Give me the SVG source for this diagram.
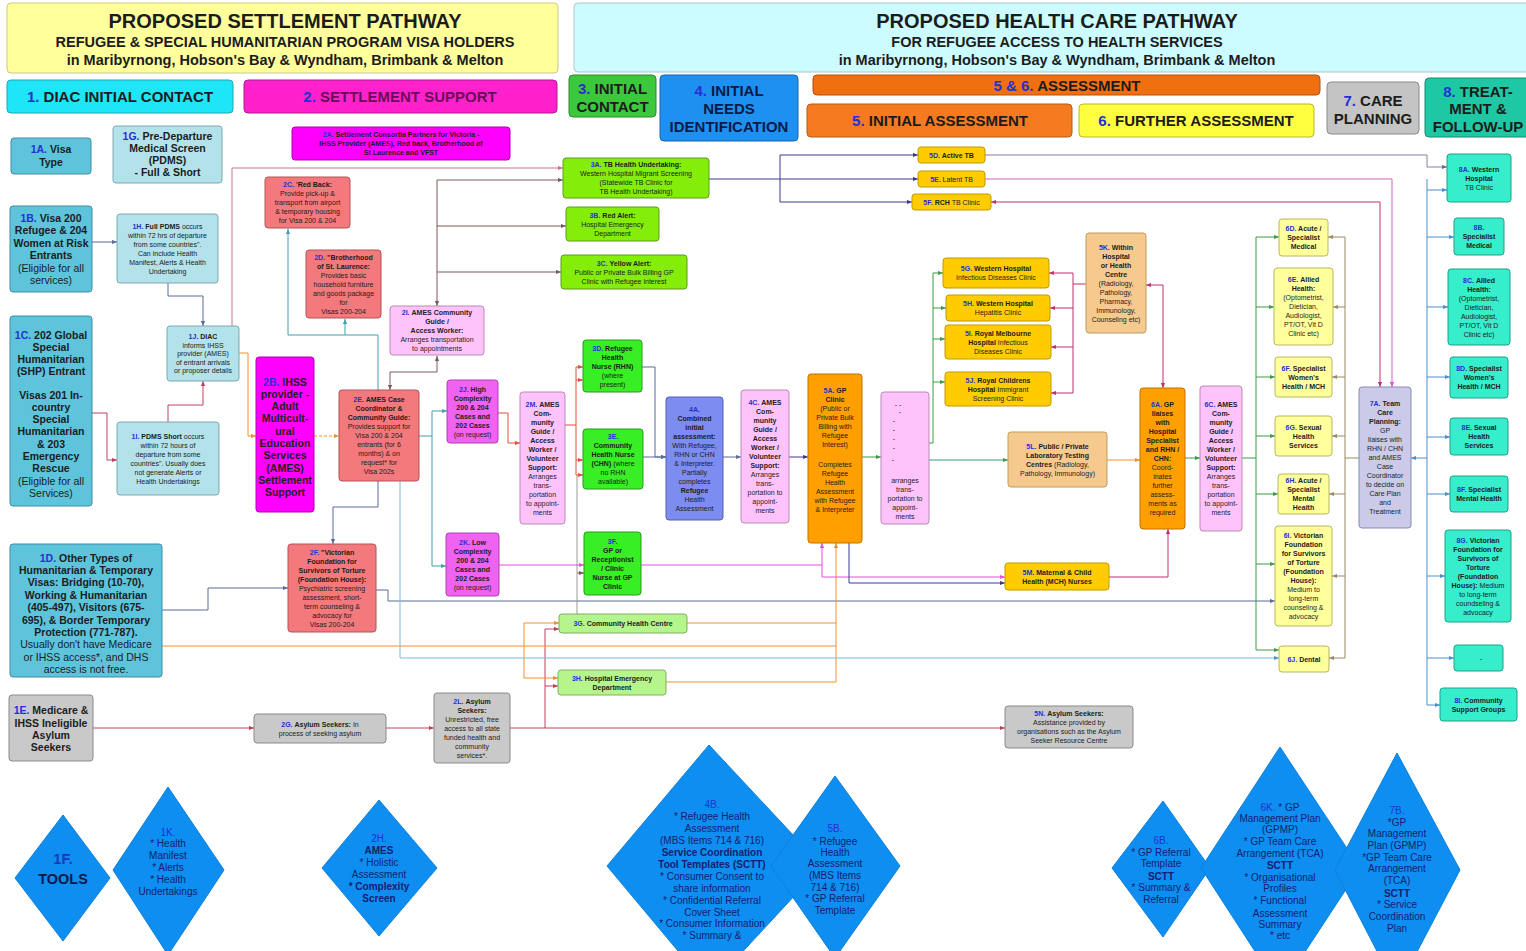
<svg xmlns="http://www.w3.org/2000/svg" width="1526" height="951" viewBox="0 0 1526 951">
<style>
.t{font-family:"Liberation Sans",Arial,Helvetica,sans-serif;text-anchor:middle;fill:#1c1c1c}
.s{font-size:7px}
.m{font-size:10.5px;font-weight:bold}
.d{font-size:10px;fill:#14206e}
.h{font-size:15px;font-weight:bold}
.b{font-weight:bold}
.nb{font-weight:normal}
.lb{fill:#2530d0}
.cy{fill:#5ec4dc;stroke:#3d8da3}
.lc{fill:#b3e2ea;stroke:#7aa9b3}
.sa{fill:#f4797d;stroke:#b55358}
.mg{fill:#ff00ff;stroke:#b000b0}
.vi{fill:#f062f0;stroke:#b040b0}
.lp{fill:#ffc3fb;stroke:#b98ab5}
.li{fill:#84ee0a;stroke:#5c9c20}
.gr{fill:#38ee24;stroke:#2a9a20}
.lg{fill:#b6f58c;stroke:#7fb060}
.pb{fill:#7d8cf0;stroke:#5060b0}
.or{fill:#ffa000;stroke:#c07000}
.go{fill:#ffcc00;stroke:#c09a00}
.tn{fill:#f6ca8e;stroke:#c09a60}
.gy{fill:#c9c9c9;stroke:#8a8a8a}
.ly{fill:#ffff9c;stroke:#b8b860}
.lv{fill:#cbcbe9;stroke:#8a8ab0}
.te{fill:#36eecb;stroke:#20a088}
.dm{fill:#0e8ef0;stroke:#0b80dc;stroke-width:1}
#connectors path{fill:none;stroke-width:1}
</style>
<defs>
<marker id="aG" viewBox="0 0 6 6" refX="6" refY="3" markerWidth="5" markerHeight="5" orient="auto-start-reverse" markerUnits="userSpaceOnUse"><path d="M0,0.5L6,3L0,5.5z" fill="#5a6a9a"/></marker>
<marker id="aR" viewBox="0 0 6 6" refX="6" refY="3" markerWidth="5" markerHeight="5" orient="auto-start-reverse" markerUnits="userSpaceOnUse"><path d="M0,0.5L6,3L0,5.5z" fill="#c0405a"/></marker>
<marker id="aO" viewBox="0 0 6 6" refX="6" refY="3" markerWidth="5" markerHeight="5" orient="auto-start-reverse" markerUnits="userSpaceOnUse"><path d="M0,0.5L6,3L0,5.5z" fill="#f0902a"/></marker>
<marker id="aP" viewBox="0 0 6 6" refX="6" refY="3" markerWidth="5" markerHeight="5" orient="auto-start-reverse" markerUnits="userSpaceOnUse"><path d="M0,0.5L6,3L0,5.5z" fill="#d07090"/></marker>
<marker id="aT" viewBox="0 0 6 6" refX="6" refY="3" markerWidth="5" markerHeight="5" orient="auto-start-reverse" markerUnits="userSpaceOnUse"><path d="M0,0.5L6,3L0,5.5z" fill="#3fa0b0"/></marker>
<marker id="aBr" viewBox="0 0 6 6" refX="6" refY="3" markerWidth="5" markerHeight="5" orient="auto-start-reverse" markerUnits="userSpaceOnUse"><path d="M0,0.5L6,3L0,5.5z" fill="#7a5a5a"/></marker>
<marker id="aRo" viewBox="0 0 6 6" refX="6" refY="3" markerWidth="5" markerHeight="5" orient="auto-start-reverse" markerUnits="userSpaceOnUse"><path d="M0,0.5L6,3L0,5.5z" fill="#e0503a"/></marker>
<marker id="aM" viewBox="0 0 6 6" refX="6" refY="3" markerWidth="5" markerHeight="5" orient="auto-start-reverse" markerUnits="userSpaceOnUse"><path d="M0,0.5L6,3L0,5.5z" fill="#e050e0"/></marker>
<marker id="aN" viewBox="0 0 6 6" refX="6" refY="3" markerWidth="5" markerHeight="5" orient="auto-start-reverse" markerUnits="userSpaceOnUse"><path d="M0,0.5L6,3L0,5.5z" fill="#3a3a8a"/></marker>
<marker id="aGr" viewBox="0 0 6 6" refX="6" refY="3" markerWidth="5" markerHeight="5" orient="auto-start-reverse" markerUnits="userSpaceOnUse"><path d="M0,0.5L6,3L0,5.5z" fill="#3f9a44"/></marker>
<marker id="aMr" viewBox="0 0 6 6" refX="6" refY="3" markerWidth="5" markerHeight="5" orient="auto-start-reverse" markerUnits="userSpaceOnUse"><path d="M0,0.5L6,3L0,5.5z" fill="#c03070"/></marker>
<marker id="aOl" viewBox="0 0 6 6" refX="6" refY="3" markerWidth="5" markerHeight="5" orient="auto-start-reverse" markerUnits="userSpaceOnUse"><path d="M0,0.5L6,3L0,5.5z" fill="#9a8a66"/></marker>
<marker id="aB" viewBox="0 0 6 6" refX="6" refY="3" markerWidth="5" markerHeight="5" orient="auto-start-reverse" markerUnits="userSpaceOnUse"><path d="M0,0.5L6,3L0,5.5z" fill="#4a90d0"/></marker>
</defs>
<rect width="1526" height="951" fill="#ffffff"/>

<!-- Headers -->
<g id="hdr-settlement">
<rect x="7" y="3" width="551" height="70" rx="4" fill="#ffff9c" stroke="#c9c98a"/>
<text class="t b" x="285" y="28" font-size="20">PROPOSED SETTLEMENT PATHWAY</text>
<text class="t b" x="285" y="47" font-size="14.5">REFUGEE &amp; SPECIAL HUMANITARIAN PROGRAM VISA HOLDERS</text>
<text class="t b" x="285" y="65" font-size="14.5">in Maribyrnong, Hobson's Bay &amp; Wyndham, Brimbank &amp; Melton</text>
</g>
<g id="hdr-health">
<rect x="574" y="3" width="960" height="69" rx="4" fill="#ccfcff" stroke="#a9c9cc"/>
<text class="t b" x="1057" y="28" font-size="20">PROPOSED HEALTH CARE PATHWAY</text>
<text class="t b" x="1057" y="47" font-size="14.5">FOR REFUGEE ACCESS TO HEALTH SERVICES</text>
<text class="t b" x="1057" y="65" font-size="14.5">in Maribyrnong, Hobson's Bay &amp; Wyndham, Brimbank &amp; Melton</text>
</g>
<g id="sec1"><rect x="7" y="80" width="226" height="33" rx="4" fill="#1ee6f6" stroke="#18a8b8"/><text class="t h" x="120" y="102"><tspan class="lb">1.</tspan> DIAC INITIAL CONTACT</text></g>
<g id="sec2"><rect x="244" y="80" width="313" height="33" rx="4" fill="#ff22cc" stroke="#b01890"/><text class="t h" x="400" y="102" fill="#6a0c58"><tspan class="lb">2.</tspan> <tspan fill="#6a0c58">SETTLEMENT SUPPORT</tspan></text></g>
<g id="sec3"><rect x="569" y="75" width="87" height="42" rx="4" fill="#3cc83c" stroke="#2a8a2a"/><text class="t h"><tspan x="612.5" y="94"><tspan class="lb">3.</tspan> INITIAL</tspan><tspan x="612.5" y="112">CONTACT</tspan></text></g>
<g id="sec4"><rect x="660" y="75" width="138" height="66" rx="4" fill="#1e90f0" stroke="#1565b0"/><text class="t h" fill="#0c1a4a"><tspan x="729" y="96"><tspan class="lb">4.</tspan> <tspan fill="#0c1a4a">INITIAL</tspan></tspan><tspan x="729" y="114" fill="#0c1a4a">NEEDS</tspan><tspan x="729" y="132" fill="#0c1a4a">IDENTIFICATION</tspan></text></g>
<g id="sec56"><rect x="813" y="75" width="507" height="20" rx="4" fill="#f07010" stroke="#b05010"/><text class="t h" x="1067" y="91"><tspan class="lb">5 &amp; 6.</tspan> ASSESSMENT</text></g>
<g id="sec5"><rect x="807" y="104" width="265" height="33" rx="4" fill="#f57a20" stroke="#b05a18"/><text class="t h" x="940" y="126"><tspan class="lb">5.</tspan> INITIAL ASSESSMENT</text></g>
<g id="sec6"><rect x="1079" y="104" width="235" height="33" rx="4" fill="#ffff40" stroke="#b8b830"/><text class="t h" x="1196" y="126"><tspan class="lb">6.</tspan> FURTHER ASSESSMENT</text></g>
<g id="sec7"><rect x="1327" y="82" width="92" height="52" rx="4" fill="#c4c4c4" stroke="#8a8a8a"/><text class="t h"><tspan x="1373" y="106"><tspan class="lb">7.</tspan> CARE</tspan><tspan x="1373" y="124">PLANNING</tspan></text></g>
<g id="sec8"><rect x="1425" y="78" width="106" height="59" rx="4" fill="#1ec8a4" stroke="#168a72"/><text class="t h"><tspan x="1478" y="97"><tspan class="lb">8.</tspan> TREAT-</tspan><tspan x="1478" y="114">MENT &amp;</tspan><tspan x="1478" y="132">FOLLOW-UP</tspan></text></g>

<!-- Connectors -->
<g id="connectors">
<g stroke="#5a6a9a">
<path d="M92,242H117" marker-end="url(#aG)"/>
<path d="M168,283V296H203V326" marker-end="url(#aG)"/>
<path d="M642,367H655V457H666" marker-end="url(#aG)"/>
<path d="M643,457H666" marker-end="url(#aG)"/>
<path d="M723,457H741" marker-end="url(#aG)"/>
<path d="M162,610H208V588H288" marker-end="url(#aG)"/>
<path d="M378,481V507H333V544" marker-end="url(#aG)"/>
<path d="M376,590H388V601H1275" marker-end="url(#aG)"/>
</g>
<g stroke="#c0405a">
<path d="M92,413H107V460H117" marker-end="url(#aR)"/>
<path d="M168,422V405H203V381" marker-end="url(#aR)"/>
<path d="M93,728H254" marker-end="url(#aR)"/>
<path d="M386,728H434" marker-end="url(#aR)"/>
<path d="M510,728H1005" marker-end="url(#aR)"/>
<path d="M545,728V629H559" marker-end="url(#aR)"/>
<path d="M545,686H558" marker-end="url(#aR)"/>
</g>
<g stroke="#f0902a">
<path d="M239,353H248V436H256" marker-end="url(#aO)"/>
<path d="M314,436H339" stroke-dasharray="3 2" marker-end="url(#aO)"/>
<path d="M1107,460H1140" marker-end="url(#aO)"/>
<path d="M162,646H836"/>
<path d="M687,623H836"/>
<path d="M666,682H836"/>
<path d="M836,682V543" marker-end="url(#aO)"/>
<path d="M524,646V623H559" marker-end="url(#aO)"/>
<path d="M524,646V678H558" marker-end="url(#aO)"/>
</g>
<path d="M232,326V168H563" stroke="#d07090" marker-end="url(#aP)"/>
<g stroke="#3fa0b0">
<path d="M378,390V335H288V229" marker-end="url(#aT)"/>
<path d="M345,335V319" marker-end="url(#aT)"/>
<path d="M419,436H432"/>
<path d="M432,411V566"/>
<path d="M432,411H447" marker-end="url(#aT)"/>
<path d="M432,566H446" marker-end="url(#aT)"/>
</g>
<g stroke="#7a5a5a">
<path d="M390,390V372H437V356" marker-start="url(#aBr)" marker-end="url(#aBr)"/>
<path d="M437,180V306" marker-end="url(#aBr)"/>
<path d="M437,180H563" marker-end="url(#aBr)"/>
<path d="M437,226H566" marker-end="url(#aBr)"/>
<path d="M437,272H561" marker-end="url(#aBr)"/>
<path d="M577,573H584" marker-end="url(#aBr)"/>
</g>
<g stroke="#e0503a">
<path d="M498,413H508V443H520" marker-end="url(#aRo)"/>
<path d="M565,425H576"/>
<path d="M576,367V475"/>
<path d="M576,367H583" marker-end="url(#aRo)"/>
<path d="M576,380H583" marker-end="url(#aRo)"/>
<path d="M576,460H583" marker-end="url(#aRo)"/>
<path d="M576,475H583" marker-end="url(#aRo)"/>
</g>
<path d="M577,475V614" stroke="#9a9a9a"/>
<g stroke="#e050e0">
<path d="M499,565H584" marker-end="url(#aM)"/>
<path d="M641,565H822V543" marker-end="url(#aM)"/>
<path d="M822,565V577H1005" marker-end="url(#aM)"/>
</g>
<g stroke="#3a3a8a">
<path d="M789,457H808" marker-end="url(#aN)"/>
<path d="M849,543V583H1005" marker-end="url(#aN)"/>
<path d="M709,179H918" marker-end="url(#aN)"/>
<path d="M780,155V202"/>
<path d="M780,155H918" marker-end="url(#aN)"/>
<path d="M780,202H912" marker-end="url(#aN)"/>
</g>
<g stroke="#3f9a44">
<path d="M862,457H881" marker-end="url(#aGr)"/>
<path d="M929,443H933V273H943" marker-end="url(#aGr)"/>
<path d="M933,308H946" marker-end="url(#aGr)"/>
<path d="M933,339H945" marker-end="url(#aGr)"/>
<path d="M933,382H945" marker-end="url(#aGr)"/>
<path d="M1185,458H1200" marker-end="url(#aGr)"/>
<path d="M1242,458H1256"/>
<path d="M1256,237V650"/>
<path d="M1256,237H1279" marker-end="url(#aGr)"/>
<path d="M1256,307H1274" marker-end="url(#aGr)"/>
<path d="M1256,377H1275" marker-end="url(#aGr)"/>
<path d="M1256,436H1275" marker-end="url(#aGr)"/>
<path d="M1256,494H1278" marker-end="url(#aGr)"/>
<path d="M1256,564H1275" marker-end="url(#aGr)"/>
<path d="M1256,650H1279" marker-end="url(#aGr)"/>
</g>
<path d="M929,460H1008" stroke="#3a9a80" marker-end="url(#aGr)"/>
<g stroke="#c03070">
<path d="M1086,284H1073"/>
<path d="M1073,273V393"/>
<path d="M1073,273H1049" marker-end="url(#aMr)"/>
<path d="M1073,308H1050" marker-end="url(#aMr)"/>
<path d="M1073,347H1051" marker-end="url(#aMr)"/>
<path d="M1073,393H1051" marker-end="url(#aMr)"/>
<path d="M1146,285H1163V388" marker-start="url(#aMr)" marker-end="url(#aMr)"/>
<path d="M1109,577H1168V529" marker-end="url(#aMr)"/>
<path d="M991,202H1380V387" marker-start="url(#aMr)" marker-end="url(#aMr)"/>
</g>
<path d="M985,179H1392V387" stroke="#d060c0" marker-end="url(#aM)"/>
<path d="M985,155H1427V167H1447" stroke="#8080a8" marker-end="url(#aG)"/>
<g stroke="#9a8a66">
<path d="M1359,458H1345"/>
<path d="M1345,237V658"/>
<path d="M1345,237H1328" marker-end="url(#aOl)"/>
<path d="M1345,307H1333" marker-end="url(#aOl)"/>
<path d="M1345,377H1332" marker-end="url(#aOl)"/>
<path d="M1345,436H1332" marker-end="url(#aOl)"/>
<path d="M1345,494H1329" marker-end="url(#aOl)"/>
<path d="M1345,576H1332" marker-end="url(#aOl)"/>
<path d="M1345,658H1329" marker-end="url(#aOl)"/>
</g>
<g stroke="#4a90d0">
<path d="M1427,458H1411" marker-end="url(#aB)"/>
<path d="M1427,179V705"/>
<path d="M1427,190H1447" marker-end="url(#aB)"/>
<path d="M1427,237H1454" marker-end="url(#aB)"/>
<path d="M1427,307H1448" marker-end="url(#aB)"/>
<path d="M1427,377H1450" marker-end="url(#aB)"/>
<path d="M1427,437H1450" marker-end="url(#aB)"/>
<path d="M1427,494H1450" marker-end="url(#aB)"/>
<path d="M1427,576H1445" marker-end="url(#aB)"/>
<path d="M1427,658H1454" marker-end="url(#aB)"/>
<path d="M1427,705H1440" marker-end="url(#aB)"/>
</g>
<path d="M400,481V658H1279" stroke="#80b8d8" marker-end="url(#aB)"/>
</g>

<!-- Column 1 -->
<g id="n1A"><rect class="cy" x="11" y="138" width="80" height="36" rx="3"/><text class="t m"><tspan x="51" y="152.5"><tspan class="lb">1A.</tspan> Visa</tspan><tspan x="51" y="165.5">Type</tspan></text></g>
<g id="n1G"><rect class="lc" x="113" y="126" width="109" height="57" rx="3"/><text class="t m" font-size="10"><tspan x="167.5" y="140"><tspan class="lb">1G.</tspan> Pre-Departure</tspan><tspan x="167.5" y="152">Medical Screen</tspan><tspan x="167.5" y="164">(PDMS)</tspan><tspan x="167.5" y="176">- Full &amp; Short</tspan></text></g>
<g id="n1B"><rect class="cy" x="10" y="206" width="82" height="86" rx="3"/><text class="t m"><tspan x="51" y="221.5"><tspan class="lb">1B.</tspan> Visa 200</tspan><tspan x="51" y="234">Refugee &amp; 204</tspan><tspan x="51" y="246.5">Women at Risk</tspan><tspan x="51" y="259">Entrants</tspan><tspan x="51" y="271.5" class="nb">(Eligible for all</tspan><tspan x="51" y="284" class="nb">services)</tspan></text></g>
<g id="n1H"><rect class="lc" x="117" y="214" width="101" height="69" rx="3"/><text class="t s"><tspan x="167.5" y="228.5"><tspan class="lb b">1H.</tspan> <tspan class="b">Full PDMS</tspan> occurs</tspan><tspan x="167.5" y="237.5">within 72 hrs of departure</tspan><tspan x="167.5" y="246.5">from some countries".</tspan><tspan x="167.5" y="255.5">Can include Health</tspan><tspan x="167.5" y="264.5">Manifest, Alerts &amp; Health</tspan><tspan x="167.5" y="273.5">Undertaking</tspan></text></g>
<g id="n1C"><rect class="cy" x="10" y="316" width="82" height="190" rx="3"/><text class="t m"><tspan x="51" y="338.5"><tspan class="lb">1C.</tspan> 202 Global</tspan><tspan x="51" y="350.8">Special</tspan><tspan x="51" y="363.1">Humanitarian</tspan><tspan x="51" y="375.4">(SHP) Entrant</tspan><tspan x="51" y="398.5">Visas 201 In-</tspan><tspan x="51" y="410.8">country</tspan><tspan x="51" y="423.1">Special</tspan><tspan x="51" y="435.4">Humanitarian</tspan><tspan x="51" y="447.7">&amp; 203</tspan><tspan x="51" y="460">Emergency</tspan><tspan x="51" y="472.3">Rescue</tspan><tspan x="51" y="484.6" class="nb">(Eligible for all</tspan><tspan x="51" y="496.9" class="nb">Services)</tspan></text></g>
<g id="n1J"><rect class="lc" x="167" y="326" width="72" height="55" rx="3"/><text class="t s"><tspan x="203" y="339"><tspan class="lb b">1J.</tspan> <tspan class="b">DIAC</tspan></tspan><tspan x="203" y="347.5">informs IHSS</tspan><tspan x="203" y="356">provider (AMES)</tspan><tspan x="203" y="364.5">of entrant arrivals</tspan><tspan x="203" y="373">or proposer details</tspan></text></g>
<g id="n1I"><rect class="lc" x="117" y="422" width="102" height="73" rx="3"/><text class="t s"><tspan x="168" y="438.5"><tspan class="lb b">1I.</tspan> <tspan class="b">PDMS Short</tspan> occurs</tspan><tspan x="168" y="447.5">within 72 hours of</tspan><tspan x="168" y="456.5">departure from some</tspan><tspan x="168" y="465.5">countries". Usually does</tspan><tspan x="168" y="474.5">not generate Alerts or</tspan><tspan x="168" y="483.5">Health Undertakings</tspan></text></g>
<g id="n1D"><rect class="cy" x="10" y="544" width="152" height="133" rx="3"/><text class="t m" font-size="10"><tspan x="86" y="561.5"><tspan class="lb">1D.</tspan> Other Types of</tspan><tspan x="86" y="574">Humanitarian &amp; Temporary</tspan><tspan x="86" y="586.4">Visas: Bridging (10-70),</tspan><tspan x="86" y="598.8">Working &amp; Humanitarian</tspan><tspan x="86" y="611.2">(405-497), Visitors (675-</tspan><tspan x="86" y="623.6">695), &amp; Border Temporary</tspan><tspan x="86" y="636">Protection (771-787).</tspan><tspan x="86" y="648.4" class="nb">Usually don't have Medicare</tspan><tspan x="86" y="660.8" class="nb">or IHSS access*, and DHS</tspan><tspan x="86" y="673.2" class="nb">access is not free.</tspan></text></g>
<g id="n1E"><rect class="gy" x="9" y="695" width="84" height="66" rx="3"/><text class="t m"><tspan x="51" y="713.5"><tspan class="lb">1E.</tspan> Medicare &amp;</tspan><tspan x="51" y="726.5">IHSS Ineligible</tspan><tspan x="51" y="738.5">Asylum</tspan><tspan x="51" y="750.5">Seekers</tspan></text></g>

<!-- Column 2 -->
<g id="n2A"><rect class="mg" x="292" y="127" width="218" height="33" rx="3"/><text class="t s b"><tspan x="401" y="137"><tspan class="lb">2A.</tspan> Settlement Consortia Partners for Victoria -</tspan><tspan x="401" y="146">IHSS Provider (AMES), Red back, Brotherhood of</tspan><tspan x="401" y="155">St Laurence and VFST</tspan></text></g>
<g id="n2C"><rect class="sa" x="265" y="177" width="85" height="51" rx="3"/><text class="t s"><tspan x="307.5" y="187"><tspan class="lb b">2C.</tspan> <tspan class="b">'Red Back:</tspan></tspan><tspan x="307.5" y="196">Provide pick-up &amp;</tspan><tspan x="307.5" y="205">transport from airport</tspan><tspan x="307.5" y="214">&amp; temporary housing</tspan><tspan x="307.5" y="223">for Visa 200 &amp; 204</tspan></text></g>
<g id="n2D"><rect class="sa" x="306" y="250" width="75" height="68" rx="3"/><text class="t s"><tspan x="343.5" y="259.5"><tspan class="lb b">2D.</tspan> <tspan class="b">"Brotherhood</tspan></tspan><tspan x="343.5" y="268.5" class="b">of St. Laurence:</tspan><tspan x="343.5" y="277.5">Provides basic</tspan><tspan x="343.5" y="286.5">household furniture</tspan><tspan x="343.5" y="295.5">and goods package</tspan><tspan x="343.5" y="304.5">for</tspan><tspan x="343.5" y="313.5">Visas 200-204</tspan></text></g>
<g id="n2I"><rect class="lp" x="390" y="306" width="94" height="49" rx="3"/><text class="t s"><tspan x="437" y="315"><tspan class="lb b">2I.</tspan> <tspan class="b">AMES Community</tspan></tspan><tspan x="437" y="324" class="b">Guide /</tspan><tspan x="437" y="333" class="b">Access Worker:</tspan><tspan x="437" y="342">Arranges transportation</tspan><tspan x="437" y="351">to appointments</tspan></text></g>
<g id="n2B"><rect class="mg" x="256" y="357" width="58" height="155" rx="3"/><text class="t m" font-size="10" fill="#6a0c6a"><tspan x="285" y="385.5"><tspan class="lb">2B.</tspan> IHSS</tspan><tspan x="285" y="397.8">provider -</tspan><tspan x="285" y="410.1">Adult</tspan><tspan x="285" y="422.4">Multicult-</tspan><tspan x="285" y="434.7">ural</tspan><tspan x="285" y="447">Education</tspan><tspan x="285" y="459.3">Services</tspan><tspan x="285" y="471.6">(AMES)</tspan><tspan x="285" y="483.9">Settlement</tspan><tspan x="285" y="496.2">Support</tspan></text></g>
<g id="n2E"><rect class="sa" x="339" y="390" width="80" height="91" rx="3"/><text class="t s"><tspan x="379" y="402"><tspan class="lb b">2E.</tspan> <tspan class="b">AMES Case</tspan></tspan><tspan x="379" y="411" class="b">Coordinator &amp;</tspan><tspan x="379" y="420" class="b">Community Guide:</tspan><tspan x="379" y="429">Provides support for</tspan><tspan x="379" y="438">Visa 200 &amp; 204</tspan><tspan x="379" y="447">entrants (for 6</tspan><tspan x="379" y="456">months) &amp; on</tspan><tspan x="379" y="465">request* for</tspan><tspan x="379" y="474">Visa 202s</tspan></text></g>
<g id="n2J"><rect class="vi" x="447" y="380" width="51" height="63" rx="3"/><text class="t s b"><tspan x="472.5" y="391.5"><tspan class="lb">2J.</tspan> High</tspan><tspan x="472.5" y="400.5">Complexity</tspan><tspan x="472.5" y="409.5">200 &amp; 204</tspan><tspan x="472.5" y="418.5">Cases and</tspan><tspan x="472.5" y="427.5">202 Cases</tspan><tspan x="472.5" y="436.5" class="nb">(on request)</tspan></text></g>
<g id="n2K"><rect class="vi" x="446" y="533" width="53" height="63" rx="3"/><text class="t s b"><tspan x="472.5" y="544.5"><tspan class="lb">2K.</tspan> Low</tspan><tspan x="472.5" y="553.5">Complexity</tspan><tspan x="472.5" y="562.5">200 &amp; 204</tspan><tspan x="472.5" y="571.5">Cases and</tspan><tspan x="472.5" y="580.5">202 Cases</tspan><tspan x="472.5" y="589.5" class="nb">(on request)</tspan></text></g>
<g id="n2M"><rect class="lp" x="520" y="392" width="45" height="132" rx="3"/><text class="t s"><tspan x="542.5" y="406.5"><tspan class="lb b">2M.</tspan> <tspan class="b">AMES</tspan></tspan><tspan x="542.5" y="415.5" class="b">Com-</tspan><tspan x="542.5" y="424.5" class="b">munity</tspan><tspan x="542.5" y="433.5" class="b">Guide /</tspan><tspan x="542.5" y="442.5" class="b">Access</tspan><tspan x="542.5" y="451.5" class="b">Worker /</tspan><tspan x="542.5" y="460.5" class="b">Volunteer</tspan><tspan x="542.5" y="469.5" class="b">Support:</tspan><tspan x="542.5" y="478.5">Arranges</tspan><tspan x="542.5" y="487.5">trans-</tspan><tspan x="542.5" y="496.5">portation</tspan><tspan x="542.5" y="505.5">to appoint-</tspan><tspan x="542.5" y="514.5">ments</tspan></text></g>
<g id="n2F"><rect class="sa" x="288" y="544" width="88" height="88" rx="3"/><text class="t s"><tspan x="332" y="554.5"><tspan class="lb b">2F.</tspan> <tspan class="b">"Victorian</tspan></tspan><tspan x="332" y="563.5" class="b">Foundation for</tspan><tspan x="332" y="572.5" class="b">Survivors of Torture</tspan><tspan x="332" y="581.5" class="b">(Foundation House):</tspan><tspan x="332" y="590.5">Psychiatric screening</tspan><tspan x="332" y="599.5">assessment, short-</tspan><tspan x="332" y="608.5">term counseling &amp;</tspan><tspan x="332" y="617.5">advocacy for</tspan><tspan x="332" y="626.5">Visas 200-204</tspan></text></g>
<g id="n2G"><rect class="gy" x="254" y="714" width="132" height="29" rx="3"/><text class="t s"><tspan x="320" y="726.5"><tspan class="lb b">2G.</tspan> <tspan class="b">Asylum Seekers:</tspan> In</tspan><tspan x="320" y="735.5">process of seeking asylum</tspan></text></g>
<g id="n2L"><rect class="gy" x="434" y="693" width="76" height="70" rx="3"/><text class="t s"><tspan x="472" y="703.5"><tspan class="lb b">2L.</tspan> <tspan class="b">Asylum</tspan></tspan><tspan x="472" y="712.5" class="b">Seekers:</tspan><tspan x="472" y="721.5">Unrestricted, free</tspan><tspan x="472" y="730.5">access to all state</tspan><tspan x="472" y="739.5">funded health and</tspan><tspan x="472" y="748.5">community</tspan><tspan x="472" y="757.5">services*.</tspan></text></g>

<!-- Column 3 -->
<g id="n3A"><rect class="li" x="563" y="158" width="146" height="40" rx="3"/><text class="t s"><tspan x="636" y="167"><tspan class="lb b">3A.</tspan> <tspan class="b">TB Health Undertaking:</tspan></tspan><tspan x="636" y="176">Western Hospital Migrant Screening</tspan><tspan x="636" y="185">(Statewide TB Clinic for</tspan><tspan x="636" y="194">TB Health Undertaking)</tspan></text></g>
<g id="n3B"><rect class="li" x="566" y="207" width="93" height="34" rx="3"/><text class="t s"><tspan x="612.5" y="217.5"><tspan class="lb b">3B.</tspan> <tspan class="b">Red Alert:</tspan></tspan><tspan x="612.5" y="226.5">Hospital Emergency</tspan><tspan x="612.5" y="235.5">Department</tspan></text></g>
<g id="n3C"><rect class="li" x="561" y="255" width="126" height="34" rx="3"/><text class="t s"><tspan x="624" y="265.5"><tspan class="lb b">3C.</tspan> <tspan class="b">Yellow Alert:</tspan></tspan><tspan x="624" y="274.5">Public or Private Bulk Billing GP</tspan><tspan x="624" y="283.5">Clinic with Refugee interest</tspan></text></g>
<g id="n3D"><rect class="gr" x="583" y="340" width="59" height="52" rx="3"/><text class="t s"><tspan x="612.5" y="350.5"><tspan class="lb b">3D.</tspan> <tspan class="b">Refugee</tspan></tspan><tspan x="612.5" y="359.5" class="b">Health</tspan><tspan x="612.5" y="368.5" class="b">Nurse (RHN)</tspan><tspan x="612.5" y="377.5">(where</tspan><tspan x="612.5" y="386.5">present)</tspan></text></g>
<g id="n3E"><rect class="gr" x="583" y="429" width="60" height="60" rx="3"/><text class="t s"><tspan x="613" y="439" class="lb b">3E.</tspan><tspan x="613" y="448" class="b">Community</tspan><tspan x="613" y="457" class="b">Health Nurse</tspan><tspan x="613" y="466"><tspan class="b">(CHN)</tspan> (where</tspan><tspan x="613" y="475">no RHN</tspan><tspan x="613" y="484">available)</tspan></text></g>
<g id="n3F"><rect class="gr" x="584" y="532" width="57" height="63" rx="3"/><text class="t s b"><tspan x="612.5" y="543.5" class="lb">3F.</tspan><tspan x="612.5" y="552.5">GP or</tspan><tspan x="612.5" y="561.5">Receptionist</tspan><tspan x="612.5" y="570.5">/ Clinic</tspan><tspan x="612.5" y="579.5">Nurse at GP</tspan><tspan x="612.5" y="588.5">Clinic</tspan></text></g>
<g id="n3G"><rect class="lg" x="559" y="614" width="128" height="19" rx="3"/><text class="t s b" x="623" y="626"><tspan class="lb">3G.</tspan> Community Health Centre</text></g>
<g id="n3H"><rect class="lg" x="558" y="670" width="108" height="25" rx="3"/><text class="t s b"><tspan x="612" y="680.5"><tspan class="lb">3H.</tspan> Hospital Emergency</tspan><tspan x="612" y="689.5">Department</tspan></text></g>

<!-- Column 4 -->
<g id="n4A"><rect class="pb" x="666" y="397" width="57" height="123" rx="3"/><text class="t s"><tspan x="694.5" y="411.5" class="lb b">4A.</tspan><tspan x="694.5" y="420.5" class="b">Combined</tspan><tspan x="694.5" y="429.5" class="b">initial</tspan><tspan x="694.5" y="438.5" class="b">assessment:</tspan><tspan x="694.5" y="447.5">With Refugee,</tspan><tspan x="694.5" y="456.5">RHN or CHN</tspan><tspan x="694.5" y="465.5">&amp; Interpreter.</tspan><tspan x="694.5" y="474.5">Partially</tspan><tspan x="694.5" y="483.5">completes</tspan><tspan x="694.5" y="492.5" class="b">Refugee</tspan><tspan x="694.5" y="501.5">Health</tspan><tspan x="694.5" y="510.5">Assessment</tspan></text></g>
<g id="n4C"><rect class="lp" x="741" y="390" width="48" height="133" rx="3"/><text class="t s"><tspan x="765" y="405"><tspan class="lb b">4C.</tspan> <tspan class="b">AMES</tspan></tspan><tspan x="765" y="414" class="b">Com-</tspan><tspan x="765" y="423" class="b">munity</tspan><tspan x="765" y="432" class="b">Guide /</tspan><tspan x="765" y="441" class="b">Access</tspan><tspan x="765" y="450" class="b">Worker /</tspan><tspan x="765" y="459" class="b">Volunteer</tspan><tspan x="765" y="468" class="b">Support:</tspan><tspan x="765" y="477">Arranges</tspan><tspan x="765" y="486">trans-</tspan><tspan x="765" y="495">portation to</tspan><tspan x="765" y="504">appoint-</tspan><tspan x="765" y="513">ments</tspan></text></g>

<!-- Column 5 -->
<g id="n5A"><rect class="or" x="808" y="374" width="54" height="169" rx="3"/><text class="t s"><tspan x="835" y="393"><tspan class="lb b">5A.</tspan> <tspan class="b">GP</tspan></tspan><tspan x="835" y="402" class="b">Clinic</tspan><tspan x="835" y="411">(Public or</tspan><tspan x="835" y="420">Private Bulk</tspan><tspan x="835" y="429">Billing with</tspan><tspan x="835" y="438">Refugee</tspan><tspan x="835" y="447">Interest)</tspan><tspan x="835" y="467">Completes</tspan><tspan x="835" y="476">Refugee</tspan><tspan x="835" y="485">Health</tspan><tspan x="835" y="494">Assessment</tspan><tspan x="835" y="503">with Refugee</tspan><tspan x="835" y="512">&amp; Interpreter</tspan></text></g>
<g id="n5P"><rect class="lp" x="881" y="392" width="48" height="132" rx="3"/><text class="t s"><tspan x="898" y="407">-   -</tspan><tspan x="900" y="414">-</tspan><tspan x="894" y="423">-</tspan><tspan x="894" y="432">-</tspan><tspan x="894" y="441">-</tspan><tspan x="894" y="450">-</tspan><tspan x="893" y="462">-</tspan><tspan x="905" y="483">arranges</tspan><tspan x="905" y="492">trans-</tspan><tspan x="905" y="501">portation to</tspan><tspan x="905" y="510">appoint-</tspan><tspan x="905" y="519">ments</tspan></text></g>
<g id="n5D"><rect class="go" x="918" y="147" width="67" height="16" rx="3"/><text class="t s b" x="951.5" y="157.5"><tspan class="lb">5D.</tspan> Active TB</text></g>
<g id="n5E"><rect class="go" x="918" y="171" width="67" height="16" rx="3"/><text class="t s" x="951.5" y="181.5"><tspan class="lb b">5E.</tspan> Latent TB</text></g>
<g id="n5F"><rect class="go" x="912" y="194" width="79" height="16" rx="3"/><text class="t s" x="951.5" y="204.5"><tspan class="lb b">5F.</tspan> <tspan class="b">RCH</tspan> TB Clinic</text></g>
<g id="n5G"><rect class="go" x="943" y="258" width="106" height="30" rx="3"/><text class="t s"><tspan x="996" y="271"><tspan class="lb b">5G.</tspan> <tspan class="b">Western Hospital</tspan></tspan><tspan x="996" y="280">Infectious Diseases Clinic</tspan></text></g>
<g id="n5H"><rect class="go" x="946" y="295" width="104" height="26" rx="3"/><text class="t s"><tspan x="998" y="306"><tspan class="lb b">5H.</tspan> <tspan class="b">Western Hospital</tspan></tspan><tspan x="998" y="315">Hepatitis Clinic</tspan></text></g>
<g id="n5I"><rect class="go" x="945" y="325" width="106" height="34" rx="3"/><text class="t s"><tspan x="998" y="335.5"><tspan class="lb b">5I.</tspan> <tspan class="b">Royal Melbourne</tspan></tspan><tspan x="998" y="344.5"><tspan class="b">Hospital</tspan> Infectious</tspan><tspan x="998" y="353.5">Diseases Clinic</tspan></text></g>
<g id="n5J"><rect class="go" x="945" y="372" width="106" height="34" rx="3"/><text class="t s"><tspan x="998" y="382.5"><tspan class="lb b">5J.</tspan> <tspan class="b">Royal Childrens</tspan></tspan><tspan x="998" y="391.5"><tspan class="b">Hospital</tspan> Immigrant</tspan><tspan x="998" y="400.5">Screening Clinic</tspan></text></g>
<g id="n5K"><rect class="tn" x="1086" y="233" width="60" height="100" rx="3"/><text class="t s"><tspan x="1116" y="249.5"><tspan class="lb b">5K.</tspan> <tspan class="b">Within</tspan></tspan><tspan x="1116" y="258.5" class="b">Hospital</tspan><tspan x="1116" y="267.5" class="b">or Health</tspan><tspan x="1116" y="276.5" class="b">Centre</tspan><tspan x="1116" y="285.5">(Radiology,</tspan><tspan x="1116" y="294.5">Pathology,</tspan><tspan x="1116" y="303.5">Pharmacy,</tspan><tspan x="1116" y="312.5">Immunology,</tspan><tspan x="1116" y="321.5">Counseling etc)</tspan></text></g>
<g id="n5L"><rect class="tn" x="1008" y="432" width="99" height="55" rx="3"/><text class="t s"><tspan x="1057.5" y="448.5"><tspan class="lb b">5L.</tspan> <tspan class="b">Public / Private</tspan></tspan><tspan x="1057.5" y="457.5" class="b">Laboratory Testing</tspan><tspan x="1057.5" y="466.5"><tspan class="b">Centres</tspan> (Radiology,</tspan><tspan x="1057.5" y="475.5">Pathology, Immunology)</tspan></text></g>
<g id="n5M"><rect class="go" x="1005" y="563" width="104" height="27" rx="3"/><text class="t s b"><tspan x="1057" y="574.5"><tspan class="lb">5M.</tspan> Maternal &amp; Child</tspan><tspan x="1057" y="583.5">Health (MCH) Nurses</tspan></text></g>
<g id="n5N"><rect class="gy" x="1005" y="706" width="128" height="42" rx="3"/><text class="t s"><tspan x="1069" y="716"><tspan class="lb b">5N.</tspan> <tspan class="b">Asylum Seekers:</tspan></tspan><tspan x="1069" y="725">Assistance provided by</tspan><tspan x="1069" y="734">organisations such as the Asylum</tspan><tspan x="1069" y="743">Seeker Resource Centre</tspan></text></g>

<!-- Column 6 -->
<g id="n6A"><rect class="or" x="1140" y="388" width="45" height="141" rx="3"/><text class="t s"><tspan x="1162.5" y="407"><tspan class="lb b">6A.</tspan> <tspan class="b">GP</tspan></tspan><tspan x="1162.5" y="416" class="b">liaises</tspan><tspan x="1162.5" y="425" class="b">with</tspan><tspan x="1162.5" y="434" class="b">Hospital</tspan><tspan x="1162.5" y="443" class="b">Specialist</tspan><tspan x="1162.5" y="452" class="b">and RHN /</tspan><tspan x="1162.5" y="461" class="b">CHN:</tspan><tspan x="1162.5" y="470">Coord-</tspan><tspan x="1162.5" y="479">inates</tspan><tspan x="1162.5" y="488">further</tspan><tspan x="1162.5" y="497">assess-</tspan><tspan x="1162.5" y="506">ments as</tspan><tspan x="1162.5" y="515">required</tspan></text></g>
<g id="n6C"><rect class="lp" x="1200" y="386" width="42" height="145" rx="3"/><text class="t s"><tspan x="1221" y="407"><tspan class="lb b">6C.</tspan> <tspan class="b">AMES</tspan></tspan><tspan x="1221" y="416" class="b">Com-</tspan><tspan x="1221" y="425" class="b">munity</tspan><tspan x="1221" y="434" class="b">Guide /</tspan><tspan x="1221" y="443" class="b">Access</tspan><tspan x="1221" y="452" class="b">Worker /</tspan><tspan x="1221" y="461" class="b">Volunteer</tspan><tspan x="1221" y="470" class="b">Support:</tspan><tspan x="1221" y="479">Arranges</tspan><tspan x="1221" y="488">trans-</tspan><tspan x="1221" y="497">portation</tspan><tspan x="1221" y="506">to appoint-</tspan><tspan x="1221" y="515">ments</tspan></text></g>
<g id="n6D"><rect class="ly" x="1279" y="219" width="49" height="37" rx="3"/><text class="t s b"><tspan x="1303.5" y="231"><tspan class="lb">6D.</tspan> Acute /</tspan><tspan x="1303.5" y="240">Specialist</tspan><tspan x="1303.5" y="249">Medical</tspan></text></g>
<g id="n6E"><rect class="ly" x="1274" y="268" width="59" height="77" rx="3"/><text class="t s"><tspan x="1303.5" y="282"><tspan class="lb b">6E.</tspan> <tspan class="b">Allied</tspan></tspan><tspan x="1303.5" y="291" class="b">Health:</tspan><tspan x="1303.5" y="300">(Optometrist,</tspan><tspan x="1303.5" y="309">Dietician,</tspan><tspan x="1303.5" y="318">Audiologist,</tspan><tspan x="1303.5" y="327">PT/OT, Vit D</tspan><tspan x="1303.5" y="336">Clinic etc)</tspan></text></g>
<g id="n6F"><rect class="ly" x="1275" y="357" width="57" height="40" rx="3"/><text class="t s b"><tspan x="1303.5" y="370.5"><tspan class="lb">6F.</tspan> Specialist</tspan><tspan x="1303.5" y="379.5">Women's</tspan><tspan x="1303.5" y="388.5">Health / MCH</tspan></text></g>
<g id="n6G"><rect class="ly" x="1275" y="416" width="57" height="40" rx="3"/><text class="t s b"><tspan x="1303.5" y="429.5"><tspan class="lb">6G.</tspan> Sexual</tspan><tspan x="1303.5" y="438.5">Health</tspan><tspan x="1303.5" y="447.5">Services</tspan></text></g>
<g id="n6H"><rect class="ly" x="1278" y="474" width="51" height="40" rx="3"/><text class="t s b"><tspan x="1303.5" y="483"><tspan class="lb">6H.</tspan> Acute /</tspan><tspan x="1303.5" y="492">Specialist</tspan><tspan x="1303.5" y="501">Mental</tspan><tspan x="1303.5" y="510">Health</tspan></text></g>
<g id="n6I"><rect class="ly" x="1275" y="526" width="57" height="100" rx="3"/><text class="t s"><tspan x="1303.5" y="538"><tspan class="lb b">6I.</tspan> <tspan class="b">Victorian</tspan></tspan><tspan x="1303.5" y="547" class="b">Foundation</tspan><tspan x="1303.5" y="556" class="b">for Survivors</tspan><tspan x="1303.5" y="565" class="b">of Torture</tspan><tspan x="1303.5" y="574" class="b">(Foundation</tspan><tspan x="1303.5" y="583" class="b">House):</tspan><tspan x="1303.5" y="592">Medium to</tspan><tspan x="1303.5" y="601">long-term</tspan><tspan x="1303.5" y="610">counseling &amp;</tspan><tspan x="1303.5" y="619">advocacy</tspan></text></g>
<g id="n6J"><rect class="ly" x="1279" y="646" width="50" height="26" rx="3"/><text class="t s b" x="1304" y="661.5"><tspan class="lb">6J.</tspan> Dental</text></g>

<!-- Column 7 -->
<g id="n7A"><rect class="lv" x="1359" y="387" width="52" height="141" rx="3"/><text class="t s"><tspan x="1385" y="406"><tspan class="lb b">7A.</tspan> <tspan class="b">Team</tspan></tspan><tspan x="1385" y="415" class="b">Care</tspan><tspan x="1385" y="424" class="b">Planning:</tspan><tspan x="1385" y="433">GP</tspan><tspan x="1385" y="442">liaises with</tspan><tspan x="1385" y="451">RHN / CHN</tspan><tspan x="1385" y="460">and AMES</tspan><tspan x="1385" y="469">Case</tspan><tspan x="1385" y="478">Coordinator</tspan><tspan x="1385" y="487">to decide on</tspan><tspan x="1385" y="496">Care Plan</tspan><tspan x="1385" y="505">and</tspan><tspan x="1385" y="514">Treatment</tspan></text></g>

<!-- Column 8 -->
<g id="n8A"><rect class="te" x="1447" y="154" width="64" height="48" rx="3"/><text class="t s b"><tspan x="1479" y="171.5"><tspan class="lb">8A.</tspan> Western</tspan><tspan x="1479" y="180.5">Hospital</tspan><tspan x="1479" y="189.5" class="nb">TB Clinic</tspan></text></g>
<g id="n8B"><rect class="te" x="1454" y="218" width="50" height="37" rx="3"/><text class="t s b"><tspan x="1479" y="230" class="lb">8B.</tspan><tspan x="1479" y="239">Specialist</tspan><tspan x="1479" y="248">Medical</tspan></text></g>
<g id="n8C"><rect class="te" x="1448" y="269" width="62" height="76" rx="3"/><text class="t s"><tspan x="1479" y="282.5"><tspan class="lb b">8C.</tspan> <tspan class="b">Allied</tspan></tspan><tspan x="1479" y="291.5" class="b">Health:</tspan><tspan x="1479" y="300.5">(Optometrist,</tspan><tspan x="1479" y="309.5">Dietician,</tspan><tspan x="1479" y="318.5">Audiologist,</tspan><tspan x="1479" y="327.5">PT/OT, Vit D</tspan><tspan x="1479" y="336.5">Clinic etc)</tspan></text></g>
<g id="n8D"><rect class="te" x="1450" y="357" width="58" height="41" rx="3"/><text class="t s b"><tspan x="1479" y="371"><tspan class="lb">8D.</tspan> Specialist</tspan><tspan x="1479" y="380">Women's</tspan><tspan x="1479" y="389">Health / MCH</tspan></text></g>
<g id="n8E"><rect class="te" x="1450" y="418" width="58" height="37" rx="3"/><text class="t s b"><tspan x="1479" y="430"><tspan class="lb">8E.</tspan> Sexual</tspan><tspan x="1479" y="439">Health</tspan><tspan x="1479" y="448">Services</tspan></text></g>
<g id="n8F"><rect class="te" x="1450" y="476" width="58" height="36" rx="3"/><text class="t s b"><tspan x="1479" y="492"><tspan class="lb">8F.</tspan> Specialist</tspan><tspan x="1479" y="501">Mental Health</tspan></text></g>
<g id="n8G"><rect class="te" x="1445" y="530" width="66" height="92" rx="3"/><text class="t s"><tspan x="1478" y="542.5"><tspan class="lb b">8G.</tspan> <tspan class="b">Victorian</tspan></tspan><tspan x="1478" y="551.5" class="b">Foundation for</tspan><tspan x="1478" y="560.5" class="b">Survivors of</tspan><tspan x="1478" y="569.5" class="b">Torture</tspan><tspan x="1478" y="578.5" class="b">(Foundation</tspan><tspan x="1478" y="587.5"><tspan class="b">House):</tspan> Medium</tspan><tspan x="1478" y="596.5">to long-term</tspan><tspan x="1478" y="605.5">coundseling &amp;</tspan><tspan x="1478" y="614.5">advocacy</tspan></text></g>
<g id="n8H"><rect class="te" x="1454" y="645" width="49" height="26" rx="3"/><text class="t s" x="1481" y="660.5">-</text></g>
<g id="n8I"><rect class="te" x="1440" y="688" width="77" height="33" rx="3"/><text class="t s b"><tspan x="1478.5" y="703"><tspan class="lb">8I.</tspan> Community</tspan><tspan x="1478.5" y="712">Support Groups</tspan></text></g>

<!-- Tools diamonds -->
<g id="d1F"><polygon class="dm" points="63,815 110,878 63,941 15,878"/><text class="t b" font-size="14.5"><tspan x="63" y="864" fill="#1f35b8">1F.</tspan><tspan x="63" y="884" fill="#10184a">TOOLS</tspan></text></g>
<g id="d1K"><polygon class="dm" points="168,787 224,870 168,955 113,870"/><text class="t d"><tspan x="168" y="835.5" class="lb">1K.</tspan><tspan x="168" y="847.3">* Health</tspan><tspan x="168" y="859.1">Manifest</tspan><tspan x="168" y="870.9">* Alerts</tspan><tspan x="168" y="882.7">* Health</tspan><tspan x="168" y="894.5">Undertakings</tspan></text></g>
<g id="d2H"><polygon class="dm" points="379,800 437,868 379,936 322,868"/><text class="t d"><tspan x="379" y="841.5" class="lb">2H.</tspan><tspan x="379" y="854" class="b">AMES</tspan><tspan x="379" y="866">* Holistic</tspan><tspan x="379" y="878">Assessment</tspan><tspan x="379" y="890"><tspan class="b">* Complexity</tspan></tspan><tspan x="379" y="902" class="b">Screen</tspan></text></g>
<g id="d4B"><polygon class="dm" points="709,745 822,866 709,988 607,866"/><text class="t d"><tspan x="712" y="807.5" class="lb">4B.</tspan><tspan x="712" y="820">* Refugee Health</tspan><tspan x="712" y="832">Assessment</tspan><tspan x="712" y="843.5">(MBS Items 714 &amp; 716)</tspan><tspan x="712" y="855.5" class="b">Service Coordination</tspan><tspan x="712" y="868" class="b">Tool Templates (SCTT)</tspan><tspan x="712" y="880">* Consumer Consent to</tspan><tspan x="712" y="891.5">share information</tspan><tspan x="712" y="903.5">* Confidential Referral</tspan><tspan x="712" y="915.5">Cover Sheet</tspan><tspan x="712" y="926.5">* Consumer Information</tspan><tspan x="712" y="938.5">* Summary &amp;</tspan></text></g>
<g id="d5B"><polygon class="dm" points="835,776 900,866 835,958 771,866"/><text class="t d"><tspan x="835" y="831.5" class="lb">5B.</tspan><tspan x="835" y="844.5">* Refugee</tspan><tspan x="835" y="855.5">Health</tspan><tspan x="835" y="866.5">Assessment</tspan><tspan x="835" y="878.5">(MBS Items</tspan><tspan x="835" y="890.5">714 &amp; 716)</tspan><tspan x="835" y="901.5">* GP Referral</tspan><tspan x="835" y="913.5">Template</tspan></text></g>
<g id="d6B"><polygon class="dm" points="1163,801 1210,868 1163,937 1112,868"/><text class="t d"><tspan x="1161" y="843.5" class="lb">6B.</tspan><tspan x="1161" y="855.5">* GP Referral</tspan><tspan x="1161" y="866.5">Template</tspan><tspan x="1161" y="879.5" class="b">SCTT</tspan><tspan x="1161" y="890.5">* Summary &amp;</tspan><tspan x="1161" y="902.5">Referral</tspan></text></g>
<g id="d6K"><polygon class="dm" points="1280,747 1360,868 1280,990 1201,868"/><text class="t d"><tspan x="1280" y="810.5"><tspan class="lb">6K.</tspan> * GP</tspan><tspan x="1280" y="821.5">Management Plan</tspan><tspan x="1280" y="832.5">(GPMP)</tspan><tspan x="1280" y="844.5">* GP Team Care</tspan><tspan x="1280" y="856.5">Arrangement (TCA)</tspan><tspan x="1280" y="868.5" class="b">SCTT</tspan><tspan x="1280" y="880.5">* Organisational</tspan><tspan x="1280" y="891.5">Profiles</tspan><tspan x="1280" y="903.5">* Functional</tspan><tspan x="1280" y="916.5">Assessment</tspan><tspan x="1280" y="927.5">Summary</tspan><tspan x="1280" y="938.5">* etc</tspan></text></g>
<g id="d7B"><polygon class="dm" points="1397,753 1460,870 1397,990 1335,870"/><text class="t d"><tspan x="1397" y="813.5" class="lb">7B.</tspan><tspan x="1397" y="825.5">*GP</tspan><tspan x="1397" y="836.5">Management</tspan><tspan x="1397" y="848.5">Plan (GPMP)</tspan><tspan x="1397" y="860.5">*GP Team Care</tspan><tspan x="1397" y="871.5">Arrangement</tspan><tspan x="1397" y="883.5">(TCA)</tspan><tspan x="1397" y="896.5" class="b">SCTT</tspan><tspan x="1397" y="907.5">* Service</tspan><tspan x="1397" y="919.5">Coordination</tspan><tspan x="1397" y="931.5">Plan</tspan></text></g>
</svg>
